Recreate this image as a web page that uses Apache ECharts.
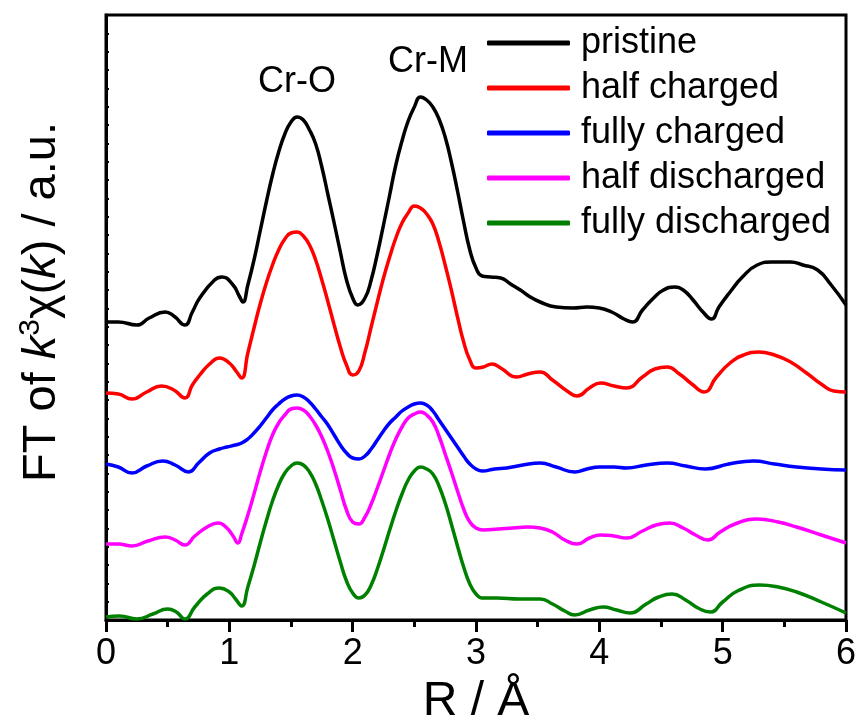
<!DOCTYPE html>
<html>
<head>
<meta charset="utf-8">
<script src="https://cdn.jsdelivr.net/npm/echarts@6/dist/echarts.min.js"></script>
<style>
html,body{margin:0;padding:0;background:#fff;}
#chart{width:861px;height:726px;}
</style>
</head>
<body>
<div id="chart"></div>
<script>
// Series names (legend)
const seriesNames = ['pristine', 'half charged', 'fully charged', 'half discharged', 'fully discharged'];
const seriesColors = ['#000000', '#ff0000', '#0000ff', '#ff00ff', '#008000'];

// R values (Å) and intensities (arbitrary units, offset curves)
const pristineR = [0, 0.10, 0.25, 0.35, 0.48, 0.55, 0.64, 0.70, 0.76, 0.88, 0.94, 1.03, 1.08, 1.11, 1.15, 1.20, 1.25, 1.30, 1.35, 1.40, 1.45, 1.50, 1.55, 1.60, 1.65, 1.70, 1.75, 1.80, 1.85, 1.90, 1.95, 2.00, 2.04, 2.10, 2.15, 2.20, 2.25, 2.30, 2.35, 2.40, 2.45, 2.50, 2.55, 2.60, 2.65, 2.70, 2.75, 2.80, 2.85, 2.90, 2.95, 3.00, 3.05, 3.12, 3.20, 3.28, 3.36, 3.44, 3.52, 3.65, 3.79, 3.90, 4.00, 4.10, 4.20, 4.27, 4.35, 4.44, 4.52, 4.61, 4.68, 4.76, 4.84, 4.91, 4.97, 5.06, 5.16, 5.28, 5.40, 5.55, 5.65, 5.77, 5.88, 6.00];
const pristineY = [298, 298, 295, 302, 308, 304, 295, 308, 322, 340, 343, 335, 324, 318, 335, 360, 389, 418, 445, 468, 486, 498, 503, 500, 490, 476, 453, 425, 397, 368, 340, 322, 315, 322, 340, 366, 395, 425, 455, 479, 499, 513, 523, 520, 513, 501, 483, 458, 429, 398, 370, 352, 344, 343, 342, 336, 330, 323, 318, 313, 312, 313, 312, 308, 301, 298, 310, 322, 330, 333, 330, 320, 308, 301, 313, 328, 343, 355, 358, 358, 355, 350, 335, 315];

const halfChargedR = [0, 0.10, 0.21, 0.33, 0.45, 0.55, 0.64, 0.70, 0.76, 0.84, 0.92, 1.00, 1.06, 1.10, 1.15, 1.20, 1.25, 1.30, 1.35, 1.40, 1.45, 1.50, 1.55, 1.60, 1.65, 1.70, 1.75, 1.80, 1.85, 1.90, 1.95, 2.00, 2.05, 2.10, 2.15, 2.20, 2.25, 2.30, 2.35, 2.40, 2.45, 2.50, 2.55, 2.60, 2.65, 2.70, 2.75, 2.80, 2.85, 2.90, 2.95, 3.00, 3.06, 3.13, 3.20, 3.33, 3.42, 3.52, 3.62, 3.75, 3.82, 3.92, 4.01, 4.12, 4.22, 4.35, 4.45, 4.55, 4.65, 4.75, 4.85, 4.95, 5.06, 5.17, 5.29, 5.42, 5.55, 5.68, 5.81, 5.90, 6.00];
const halfChargedY = [227, 226, 221, 228, 234, 230, 222, 235, 245, 256, 262, 257, 248, 242, 267, 292, 316, 337, 355, 370, 381, 387, 388, 384, 375, 360, 340, 318, 295, 273, 255, 245, 249, 268, 293, 318, 342, 363, 382, 397, 407, 414, 412, 406, 396, 378, 355, 330, 303, 278, 260, 252, 253, 256, 252, 243, 246, 248, 240, 228, 224, 232, 237, 234, 232, 243, 251, 253, 246, 236, 228, 243, 257, 265, 268, 265, 258, 247, 235, 229, 228];

const fullyChargedR = [0, 0.10, 0.21, 0.33, 0.46, 0.56, 0.67, 0.75, 0.84, 0.92, 0.98, 1.05, 1.10, 1.15, 1.20, 1.25, 1.30, 1.35, 1.40, 1.45, 1.50, 1.55, 1.60, 1.65, 1.70, 1.75, 1.80, 1.85, 1.90, 1.95, 2.00, 2.05, 2.10, 2.15, 2.20, 2.25, 2.30, 2.35, 2.40, 2.45, 2.50, 2.55, 2.60, 2.65, 2.70, 2.75, 2.80, 2.85, 2.90, 2.95, 3.00, 3.05, 3.15, 3.25, 3.38, 3.52, 3.65, 3.80, 3.90, 4.00, 4.12, 4.22, 4.38, 4.55, 4.70, 4.86, 5.05, 5.25, 5.42, 5.60, 5.80, 6.00];
const fullyChargedY = [156, 153, 147, 154, 159, 155, 148, 157, 167, 171, 173, 175, 177, 181, 187, 194, 202, 210, 216, 221, 224, 225, 223, 218, 211, 203, 195, 185, 175, 167, 162, 161, 164, 171, 180, 189, 197, 203, 209, 213, 216, 217, 215, 209, 200, 191, 182, 173, 164, 156, 151, 149, 151, 152, 155, 157, 153, 148, 151, 153, 153, 152, 155, 157, 154, 151, 156, 159, 156, 153, 151, 150];

const halfDischargedR = [0, 0.10, 0.21, 0.34, 0.48, 0.56, 0.64, 0.72, 0.82, 0.91, 0.98, 1.03, 1.07, 1.10, 1.15, 1.20, 1.25, 1.30, 1.35, 1.40, 1.45, 1.50, 1.55, 1.60, 1.65, 1.70, 1.75, 1.80, 1.85, 1.90, 1.95, 2.00, 2.05, 2.10, 2.15, 2.20, 2.25, 2.30, 2.35, 2.40, 2.45, 2.50, 2.55, 2.60, 2.65, 2.70, 2.75, 2.80, 2.85, 2.90, 2.95, 3.00, 3.06, 3.18, 3.30, 3.42, 3.52, 3.62, 3.72, 3.82, 3.92, 4.01, 4.12, 4.22, 4.35, 4.46, 4.57, 4.68, 4.78, 4.88, 4.98, 5.10, 5.28, 5.45, 5.60, 5.80, 6.00];
const halfDischargedY = [76, 76, 74, 79, 83, 80, 75, 84, 93, 97, 92, 84, 77, 86, 105, 126, 148, 168, 185, 197, 205, 211, 212, 210, 204, 195, 183, 168, 150, 130, 110, 98, 96, 103, 116, 132, 149, 166, 181, 193, 202, 206, 208, 205, 198, 184, 166, 148, 129, 111, 98, 92, 90, 91, 92, 93, 92, 88, 80, 76, 82, 85, 84, 82, 89, 95, 97, 92, 85, 80, 88, 96, 101, 98, 93, 85, 77];

const fullyDischargedR = [0, 0.11, 0.25, 0.38, 0.50, 0.57, 0.64, 0.72, 0.82, 0.92, 1.00, 1.05, 1.10, 1.15, 1.20, 1.25, 1.30, 1.35, 1.40, 1.45, 1.50, 1.55, 1.60, 1.65, 1.70, 1.75, 1.80, 1.85, 1.90, 1.95, 2.00, 2.05, 2.10, 2.15, 2.20, 2.25, 2.30, 2.35, 2.40, 2.45, 2.50, 2.55, 2.60, 2.65, 2.70, 2.75, 2.80, 2.85, 2.90, 2.95, 3.00, 3.05, 3.10, 3.17, 3.35, 3.52, 3.62, 3.72, 3.80, 3.92, 4.03, 4.14, 4.25, 4.38, 4.48, 4.59, 4.70, 4.80, 4.90, 5.00, 5.12, 5.30, 5.45, 5.60, 5.80, 6.00];
const fullyDischargedY = [3, 4, 1, 6, 11, 8, 1, 13, 26, 32, 28, 21, 14, 33, 54, 77, 99, 119, 135, 147, 154, 157, 155, 148, 136, 119, 100, 79, 58, 39, 27, 22, 25, 35, 51, 70, 90, 109, 126, 140, 149, 153, 151, 146, 134, 117, 96, 74, 53, 36, 26, 22, 22, 22, 21, 21, 16, 9, 5, 10, 13, 10, 7, 16, 23, 26, 20, 12, 8, 18, 29, 35, 33, 28, 18, 7];

const xTicks = [0, 1, 2, 3, 4, 5, 6];
const peakLabels = ['Cr-O', 'Cr-M'];

const allR = [pristineR, halfChargedR, fullyChargedR, halfDischargedR, fullyDischargedR];
const allY = [pristineY, halfChargedY, fullyChargedY, halfDischargedY, fullyDischargedY];

const FONT = '"Liberation Sans", Arial, sans-serif';
const chart = echarts.init(document.getElementById('chart'), null, {renderer: 'canvas'});

const series = seriesNames.map((name, i) => ({
  name: name,
  type: 'line',
  data: allR[i].map((r, j) => [r, allY[i][j]]),
  smooth: 0.5,
  symbol: 'none',
  lineStyle: {color: seriesColors[i], width: 3.5},
  itemStyle: {color: seriesColors[i]},
  z: 10 - i
}));

chart.setOption({
  animation: false,
  backgroundColor: '#ffffff',
  grid: {left: 106, right: 15, top: 15, bottom: 106, outerBoundsMode: 'none', containLabel: false,
    show: true, borderColor: '#000', borderWidth: 3, backgroundColor: 'transparent'},
  xAxis: {
    type: 'value', min: 0, max: 6, interval: 1,
    axisLine: {show: true, onZero: false, lineStyle: {color: '#000', width: 3}},
    axisTick: {show: true, inside: false, length: 12, lineStyle: {color: '#000', width: 3}},
    minorTick: {show: true, splitNumber: 2, length: 7, lineStyle: {color: '#000', width: 3}},
    splitLine: {show: false},
    axisLabel: {fontSize: 36, color: '#000', fontFamily: FONT, margin: 16,
      formatter: v => xTicks.indexOf(v) >= 0 ? String(v) : ''},
    name: 'R / Å', nameLocation: 'middle', nameGap: 58,
    nameTextStyle: {fontSize: 48, color: '#000', fontFamily: FONT}
  },
  yAxis: {
    type: 'value', min: 0, max: 605, interval: 605 / 33,
    axisLine: {show: true, onZero: false, lineStyle: {color: '#000', width: 3}},
    axisTick: {show: true, inside: true, length: 3, lineStyle: {color: '#000', width: 2}},
    splitLine: {show: false},
    axisLabel: {show: false}
  },
  legend: {
    show: true, orient: 'vertical', left: 482, top: 18,
    itemWidth: 83, itemHeight: 5, itemGap: 5, icon: 'roundRect',
    data: seriesNames,
    textStyle: {fontSize: 36, color: '#000', fontFamily: FONT, lineHeight: 40, padding: [0, 0, 0, 6]}
  },
  graphic: [
    {type: 'text', left: 258, top: 64, style: {text: peakLabels[0], fontSize: 36, fontFamily: FONT, fill: '#000'}},
    {type: 'text', left: 388, top: 44, style: {text: peakLabels[1], fontSize: 36, fontFamily: FONT, fill: '#000'}},
    {type: 'text', x: 42, y: 302, rotation: Math.PI / 2,
      style: {
        text: '{n|FT of }{i|k}{s|3}{n|χ(}{i|k}{n|) / a.u.}',
        align: 'center', verticalAlign: 'middle',
        fill: '#000', fontSize: 47, fontFamily: FONT,
        rich: {
          n: {fontSize: 47, fontFamily: FONT, fill: '#000'},
          i: {fontSize: 47, fontFamily: FONT, fontStyle: 'italic', fill: '#000'},
          s: {fontSize: 30, fontFamily: FONT, fill: '#000', padding: [0, 0, 22, 0]}
        }
      }
    }
  ],
  series: series
});
</script>
</body>
</html>
